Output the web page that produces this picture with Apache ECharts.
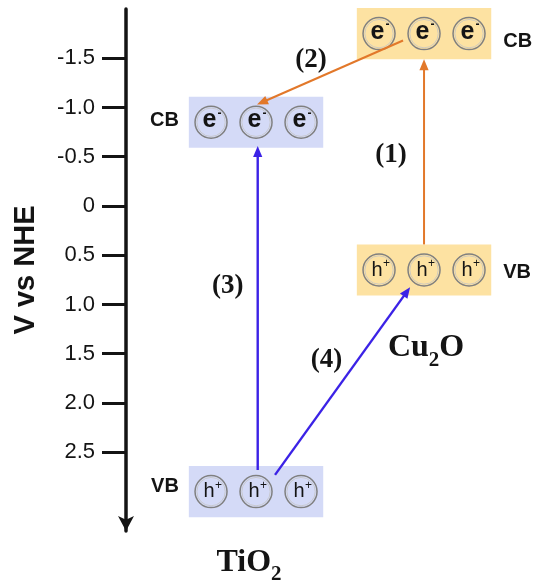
<!DOCTYPE html>
<html>
<head>
<meta charset="utf-8">
<script src="https://cdn.jsdelivr.net/npm/echarts@6/dist/echarts.min.js"></script>
<style>
  html, body { margin: 0; padding: 0; background: #ffffff; }
  #chart { width: 546px; height: 583px; }
</style>
</head>
<body>
<div id="chart"></div>
<script>
// Band-edge potentials (V vs NHE) of the TiO2 / Cu2O heterojunction
const materials = ['TiO2', 'Cu2O'];
const materialPos = [1, 2];              // column of each material on the hidden x axis
const cbPotential = [-0.85, -1.75];      // conduction-band centre
const vbPotential = [2.9, 0.65];         // valence-band centre
const yTickValues = [-1.5, -1.0, -0.5, 0, 0.5, 1.0, 1.5, 2.0, 2.5];
const yTickLabels = ['-1.5', '-1.0', '-0.5', '0', '0.5', '1.0', '1.5', '2.0', '2.5'];
const stepLabels = ['(1)', '(2)', '(3)', '(4)'];

// drawing constants
const bandHalfHeight = 0.26;   // V
const bandHalfWidth = 0.4;     // x-axis units
const carrierSpacing = 45;     // px between carrier circles
const bandFill = ['#d4daf7', '#fde2a2'];
const ORANGE = '#e2782a';
const BLUE = '#3b22e6';
const INK = '#141414';
const SANS = '"Liberation Sans", Arial, sans-serif';
const SERIF = '"Liberation Serif", "Times New Roman", serif';

// one entry per band box
const bands = [];
materials.forEach((m, i) => {
  bands.push({ value: [materialPos[i], cbPotential[i]], material: i, kind: 'CB' });
  bands.push({ value: [materialPos[i], vbPotential[i]], material: i, kind: 'VB' });
});
// vertical nudge of the CB / VB side labels, px (order as in bands)
const sideLabelDy = [-1.5, -5, 8, 2.5];

// charge-transfer arrows, anchored on the band levels
const arrows = [
  { from: [materialPos[1], vbPotential[1] - bandHalfHeight], to: [materialPos[1], cbPotential[1] + bandHalfHeight], color: ORANGE, width: 2, labelOffset: [-33, 3] },
  { from: [materialPos[1] - 0.125, cbPotential[1] + 0.07], to: [materialPos[0] + 0.006, cbPotential[0] - 0.18], color: ORANGE, width: 2, labelOffset: [-19, -12] },
  { from: [materialPos[0] + 0.01, vbPotential[0] - 0.22], to: [materialPos[0] + 0.01, cbPotential[0] + bandHalfHeight - 0.02], color: BLUE, width: 2.4, labelOffset: [-30, -22] },
  { from: [materialPos[0] + 0.113, vbPotential[0] - 0.17], to: [materialPos[1] - 0.083, vbPotential[1] + 0.175], color: BLUE, width: 2.4, labelOffset: [-16, -21] }
];

const measureCtx = document.createElement('canvas').getContext('2d');
function textWidth(str, font) {
  measureCtx.font = font;
  return measureCtx.measureText(str).width;
}

function textEl(text, x, y, font, align, fill) {
  return {
    type: 'text',
    style: {
      text: text, x: x, y: y, font: font, fill: fill || INK,
      align: align, verticalAlign: 'middle',
      textAlign: align, textVerticalAlign: 'middle'
    }
  };
}

// chemical formula with subscripted digits, centred on cx, baseline at baseY
function formulaEls(name, cx, baseY) {
  const mainSize = 32, subSize = 21;
  const mainFont = 'bold ' + mainSize + 'px ' + SERIF;
  const subFont = 'bold ' + subSize + 'px ' + SERIF;
  const parts = name.match(/[A-Za-z]+|\d+/g);
  const widths = parts.map(p => textWidth(p, /\d/.test(p) ? subFont : mainFont));
  const total = widths.reduce((a, b) => a + b, 0);
  let x = cx - total / 2;
  return parts.map((p, i) => {
    const sub = /\d/.test(p);
    const y = sub ? baseY + 9 - 0.34 * subSize : baseY - 0.34 * mainSize;
    const el = textEl(p, x, y, sub ? subFont : mainFont, 'left');
    x += widths[i];
    return el;
  });
}

function renderBand(params, api) {
  const b = bands[params.dataIndex];
  const x = api.value(0), level = api.value(1);
  const tl = api.coord([x - bandHalfWidth, level - bandHalfHeight]);
  const br = api.coord([x + bandHalfWidth, level + bandHalfHeight]);
  const c = api.coord([x, level]);
  const top = Math.min(tl[1], br[1]), bottom = Math.max(tl[1], br[1]);
  const fill = bandFill[b.material];
  const children = [{
    type: 'rect',
    shape: { x: tl[0], y: top, width: br[0] - tl[0], height: bottom - top },
    style: { fill: fill }
  }];
  const isCB = b.kind === 'CB';
  [-1, 0, 1].forEach(k => {
    const cx = c[0] + k * carrierSpacing, cy = c[1];
    children.push({ type: 'circle', shape: { cx: cx, cy: cy, r: 16 }, style: { fill: fill, stroke: '#808080', lineWidth: 1.5 } });
    children.push({ type: 'circle', shape: { cx: cx, cy: cy, r: 14.2 }, style: { fill: fill, stroke: '#c4c4c4', lineWidth: 0.8 } });
    if (isCB) {
      children.push(textEl('e', cx - 1.5, cy - 2, 'bold 25px ' + SANS, 'center'));
      children.push(textEl('-', cx + 8.5, cy - 9, 'bold 12px ' + SANS, 'center'));
    } else {
      children.push(textEl('h', cx - 2, cy, '20px ' + SANS, 'center'));
      children.push(textEl('+', cx + 7.5, cy - 6, '12px ' + SANS, 'center'));
    }
  });
  const dy = sideLabelDy[params.dataIndex];
  if (b.material === 0) {
    children.push(textEl(b.kind, tl[0] - 10, c[1] + dy, 'bold 20px ' + SANS, 'right'));
  } else {
    children.push(textEl(b.kind, br[0] + 12, c[1] + dy, 'bold 20px ' + SANS, 'left'));
  }
  if (!isCB) {
    const nameDx = b.material === 0 ? -7 : 2;
    const nameDy = b.material === 0 ? 56 : 63;
    formulaEls(materials[b.material], c[0] + nameDx, bottom + nameDy).forEach(el => children.push(el));
  }
  return { type: 'group', children: children };
}

function renderArrow(params, api) {
  const a = arrows[params.dataIndex];
  const p1 = api.coord([api.value(0), api.value(1)]);
  const p2 = api.coord([api.value(2), api.value(3)]);
  const dx = p2[0] - p1[0], dy = p2[1] - p1[1];
  const len = Math.sqrt(dx * dx + dy * dy);
  const ux = dx / len, uy = dy / len;
  const headLen = 11, headHalf = 4.6;
  const bx = p2[0] - ux * headLen, by = p2[1] - uy * headLen;
  const nx = -uy, ny = ux;
  const mid = [(p1[0] + p2[0]) / 2, (p1[1] + p2[1]) / 2];
  return {
    type: 'group',
    children: [
      { type: 'line', shape: { x1: p1[0], y1: p1[1], x2: bx + ux, y2: by + uy }, style: { stroke: a.color, lineWidth: a.width } },
      { type: 'polygon', shape: { points: [[p2[0], p2[1]], [bx + nx * headHalf, by + ny * headHalf], [bx - nx * headHalf, by - ny * headHalf]] }, style: { fill: a.color } },
      textEl(stepLabels[params.dataIndex], mid[0] + a.labelOffset[0], mid[1] + a.labelOffset[1], 'bold 27px ' + SERIF, 'center')
    ]
  };
}

const chart = echarts.init(document.getElementById('chart'), null, { renderer: 'canvas' });
chart.setOption({
  animation: false,
  backgroundColor: '#ffffff',
  grid: { left: 126, right: 0, top: 9, bottom: 52 },
  xAxis: { type: 'value', min: 0.226, max: 2.726, show: false },
  yAxis: {
    type: 'value',
    inverse: true,
    min: -2.0,
    max: 3.3,
    name: 'V vs NHE',
    nameLocation: 'middle',
    nameGap: 86,
    nameTextStyle: { fontSize: 29, fontWeight: 'bold', color: INK, fontFamily: SANS },
    axisLine: { show: true, onZero: false, symbol: ['arrow', 'none'], symbolSize: [12, 15], lineStyle: { color: INK, width: 3.5 } },
    axisTick: { show: true, customValues: yTickValues, length: 24, lineStyle: { color: INK, width: 3 } },
    axisLabel: {
      customValues: yTickValues,
      formatter: v => {
        const i = yTickValues.findIndex(t => Math.abs(t - v) < 1e-9);
        return i >= 0 ? yTickLabels[i] : '';
      },
      fontSize: 22, color: INK, fontFamily: SANS, margin: 31
    },
    splitLine: { show: false }
  },
  series: [
    {
      type: 'custom',
      name: 'bands',
      clip: false,
      silent: true,
      renderItem: renderBand,
      encode: { x: 0, y: 1 },
      data: bands.map(b => b.value)
    },
    {
      type: 'custom',
      name: 'transfer',
      clip: false,
      silent: true,
      renderItem: renderArrow,
      encode: { x: [0, 2], y: [1, 3] },
      data: arrows.map(a => [a.from[0], a.from[1], a.to[0], a.to[1]])
    }
  ]
});
</script>
</body>
</html>
